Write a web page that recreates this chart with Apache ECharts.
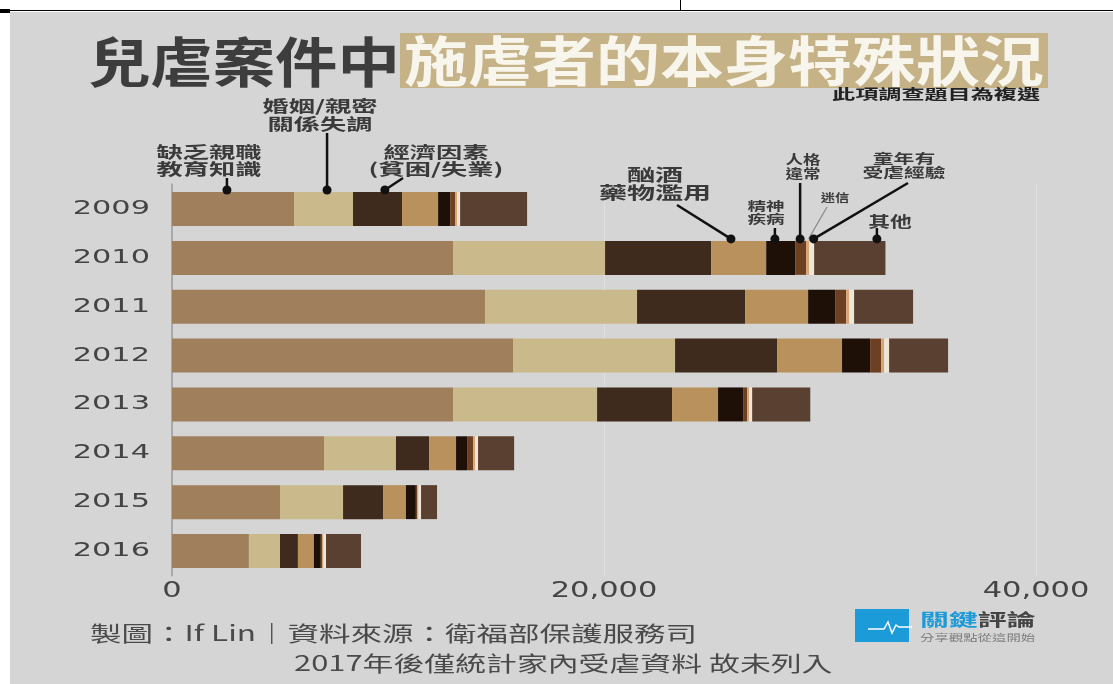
<!DOCTYPE html>
<html>
<head>
<meta charset="utf-8">
<script src="https://cdn.jsdelivr.net/npm/echarts@6/dist/echarts.min.js"></script>
<style>
body { margin: 0; background: #fff; }
#bg { position: absolute; left: 10px; top: 12px; width: 1103px; height: 672px; background: #d5d5d5; }
#topline { position: absolute; left: 0; top: 10px; width: 1113px; height: 1px; background: #000; }
#tick { position: absolute; left: 680px; top: 0; width: 1px; height: 11px; background: #000; }
#corner { position: absolute; left: 0; top: 9px; width: 10px; height: 4px; background: #000; }
#main { position: absolute; left: 0; top: 0; width: 1113px; height: 684px; }
</style>
</head>
<body>
<div id="bg"></div><div id="topline"></div><div id="tick"></div><div id="corner"></div>
<div id="main"></div>
<script>
var myChart = echarts.init(document.getElementById('main'));

var years = ['2009', '2010', '2011', '2012', '2013', '2014', '2015', '2016'];
var causes = ['缺乏親職教育知識', '婚姻/親密關係失調', '經濟因素(貧困/失業)', '酗酒藥物濫用',
    '精神疾病', '人格違常', '迷信', '童年有受虐經驗', '其他'];
var lackParenting = [5650, 13010, 14490, 15790, 13010, 7040, 5000, 3560];
var marriage = [2730, 7040, 7040, 7500, 6670, 3330, 2920, 1440];
var economic = [2270, 4910, 5000, 4720, 3470, 1530, 1850, 830];
var alcoholDrugs = [1670, 2550, 2920, 3010, 2130, 1250, 1060, 740];
var mentalIllness = [560, 1340, 1250, 1300, 1160, 510, 460, 320];
var personality = [230, 510, 510, 510, 190, 280, 60, 60];
var superstition = [90, 140, 140, 140, 90, 90, 60, 60];
var childhoodAbuse = [140, 230, 230, 230, 140, 140, 120, 120];
var others = [3100, 3300, 2730, 2730, 2690, 1670, 740, 1620];
var xTicks = [0, 20000, 40000];

var stack = [lackParenting, marriage, economic, alcoholDrugs, mentalIllness,
    personality, superstition, childhoodAbuse, others];
var colors = ['#a07f5c', '#c9b98b', '#3f2b1d', '#b8915d', '#1f1007',
    '#6e4023', '#d9a673', '#efe6d8', '#5a4030'];

var series = [];
for (var i = 0; i < stack.length; i++) {
    series.push({
        name: causes[i],
        type: 'bar',
        stack: 'total',
        barWidth: 34,
        data: stack[i],
        itemStyle: { color: colors[i] }
    });
}

var option = {
    animation: false,
    backgroundColor: 'transparent',
    grid: { left: 172, right: 77, top: 184.6, bottom: 108.6 },
    xAxis: {
        type: 'value',
        min: 0,
        max: 40000,
        interval: 20000,
        axisLine: { show: false },
        axisTick: { show: false },
        axisLabel: { show: false },
        splitLine: { lineStyle: { color: '#e0e0e0', width: 1 } }
    },
    yAxis: {
        type: 'category',
        inverse: true,
        data: years,
        axisLine: { show: true, lineStyle: { color: '#a9a9a9', width: 2 } },
        axisTick: { show: false },
        axisLabel: { show: false }
    },
    series: series
};
myChart.setOption(option);

var CJK = '"Noto Sans CJK TC"';
var graphics = [];

function text(x, y, str, font, fill, align, sx, lh) {
    graphics.push({
        type: 'text', x: x, y: y, scaleX: sx, z: 100,
        style: {
            text: str, font: font, fill: fill,
            textAlign: align, textVerticalAlign: 'middle', lineHeight: lh || 0
        }
    });
}

// title
text(88, 62, '兒虐案件中', 'bold 54px ' + CJK, '#3d3d3d', 'left', 1.155);
graphics.push({ type: 'rect', z: 90, shape: { x: 400, y: 33, width: 648, height: 55 }, style: { fill: '#c5b286' } });
text(404, 61, '施虐者的本身特殊狀況', 'bold 54px ' + CJK, '#f8f5ec', 'left', 1.185);
text(1040, 94, '此項調查題目為複選', 'bold 14px ' + CJK, '#222', 'right', 1.65);

// axis labels from the axes
for (var k = 0; k < years.length; k++) {
    var p = myChart.convertToPixel({ gridIndex: 0 }, [0, k]);
    text(150, p[1], years[k], '19px "DejaVu Sans"', '#444', 'right', 1.6);
}
for (var t = 0; t < xTicks.length; t++) {
    var q = myChart.convertToPixel({ gridIndex: 0 }, [xTicks[t], 0]);
    text(q[0], 592, echarts.format.addCommas(xTicks[t]), '21px "DejaVu Sans"', '#444', 'center', 1.45);
}

// annotations: series index, year index, fraction along segment
function segPx(s, row, frac) {
    var start = 0;
    for (var i = 0; i < s; i++) start += stack[i][row];
    var v = start + frac * stack[s][row];
    return myChart.convertToPixel({ gridIndex: 0 }, [v, row]);
}
var notes = [
    { s: 0, row: 0, f: 0.45, from: [null, 178], txt: '缺乏親職\n教育知識', tx: 209, ty: 160, size: 16, sx: 1.64, lh: 17 },
    { s: 1, row: 0, f: 0.56, from: [null, 133], txt: '婚姻/親密\n關係失調', tx: 320, ty: 115, size: 16, sx: 1.64, lh: 18 },
    { s: 2, row: 0, f: 0.65, from: [403, 178], txt: '經濟因素\n(貧困/失業)', tx: 436, ty: 160, size: 16, sx: 1.64, lh: 17 },
    { s: 3, row: 1, f: 0.36, from: [677, 205], txt: '酗酒\n藥物濫用', tx: 655, ty: 184, size: 17, sx: 1.65, lh: 18 },
    { s: 4, row: 1, f: 0.3, from: [null, 228], txt: '精神\n疾病', tx: 766, ty: 213, size: 12, sx: 1.55, lh: 13.5 },
    { s: 5, row: 1, f: 0.45, from: [null, 183], txt: '人格\n違常', tx: 803, ty: 166, size: 13, sx: 1.35, lh: 13.5 },
    { s: 6, row: 1, f: 0.8, from: [827, 207], txt: '迷信', tx: 835, ty: 198, size: 11, sx: 1.3, thin: true },
    { s: 7, row: 1, f: 0.9, from: [908, 183], txt: '童年有\n受虐經驗', tx: 904, ty: 165, size: 13, sx: 1.6, lh: 14 },
    { s: 8, row: 1, f: 0.88, from: [null, 228], txt: '其他', tx: 890, ty: 221, size: 15, sx: 1.45 }
];
for (var n = 0; n < notes.length; n++) {
    var a = notes[n];
    var c = segPx(a.s, a.row, a.f);
    var dotY = c[1] - 17 - 2;
    var x1 = a.from[0] === null ? c[0] : a.from[0];
    graphics.push({
        type: 'line', z: 95,
        shape: { x1: x1, y1: a.from[1], x2: c[0], y2: dotY },
        style: { stroke: a.thin ? '#8a8a8a' : '#111', lineWidth: a.thin ? 1.2 : 2.5 }
    });
    if (!a.thin) {
        graphics.push({ type: 'circle', z: 96, shape: { cx: c[0], cy: dotY, r: 4.5 }, style: { fill: '#111' } });
    }
    text(a.tx, a.ty, a.txt, 'bold ' + a.size + 'px ' + CJK, '#3a3a3a', 'center', a.sx, a.lh);
}

// footer
text(90, 633, '製圖：If Lin｜資料來源：衛福部保護服務司', '21px ' + CJK, '#4a4a4a', 'left', 1.5);
text(294, 663, '2017年後僅統計家內受虐資料 故未列入', '21px ' + CJK, '#4a4a4a', 'left', 1.47);

// logo
graphics.push({ type: 'rect', z: 90, shape: { x: 855, y: 609, width: 54, height: 33 }, style: { fill: '#1b9bd7' } });
graphics.push({
    type: 'polyline', z: 91,
    shape: { points: [[868, 629], [884, 629], [888, 622], [892, 633], [896, 625], [899, 627], [912, 627]] },
    style: { stroke: '#fff', lineWidth: 1.5, fill: null }
});
graphics.push({
    type: 'text', x: 920, y: 620, scaleX: 1.7, z: 100,
    style: {
        text: '{a|關鍵}{b|評論}', textAlign: 'left', textVerticalAlign: 'middle',
        rich: {
            a: { font: 'bold 17px ' + CJK, fill: '#1b9bd7' },
            b: { font: 'bold 17px ' + CJK, fill: '#444' }
        }
    }
});
text(920, 638, '分享觀點從這開始', '9px ' + CJK, '#7a7a7a', 'left', 1.6);

myChart.setOption({ graphic: graphics });
</script>
</body>
</html>
